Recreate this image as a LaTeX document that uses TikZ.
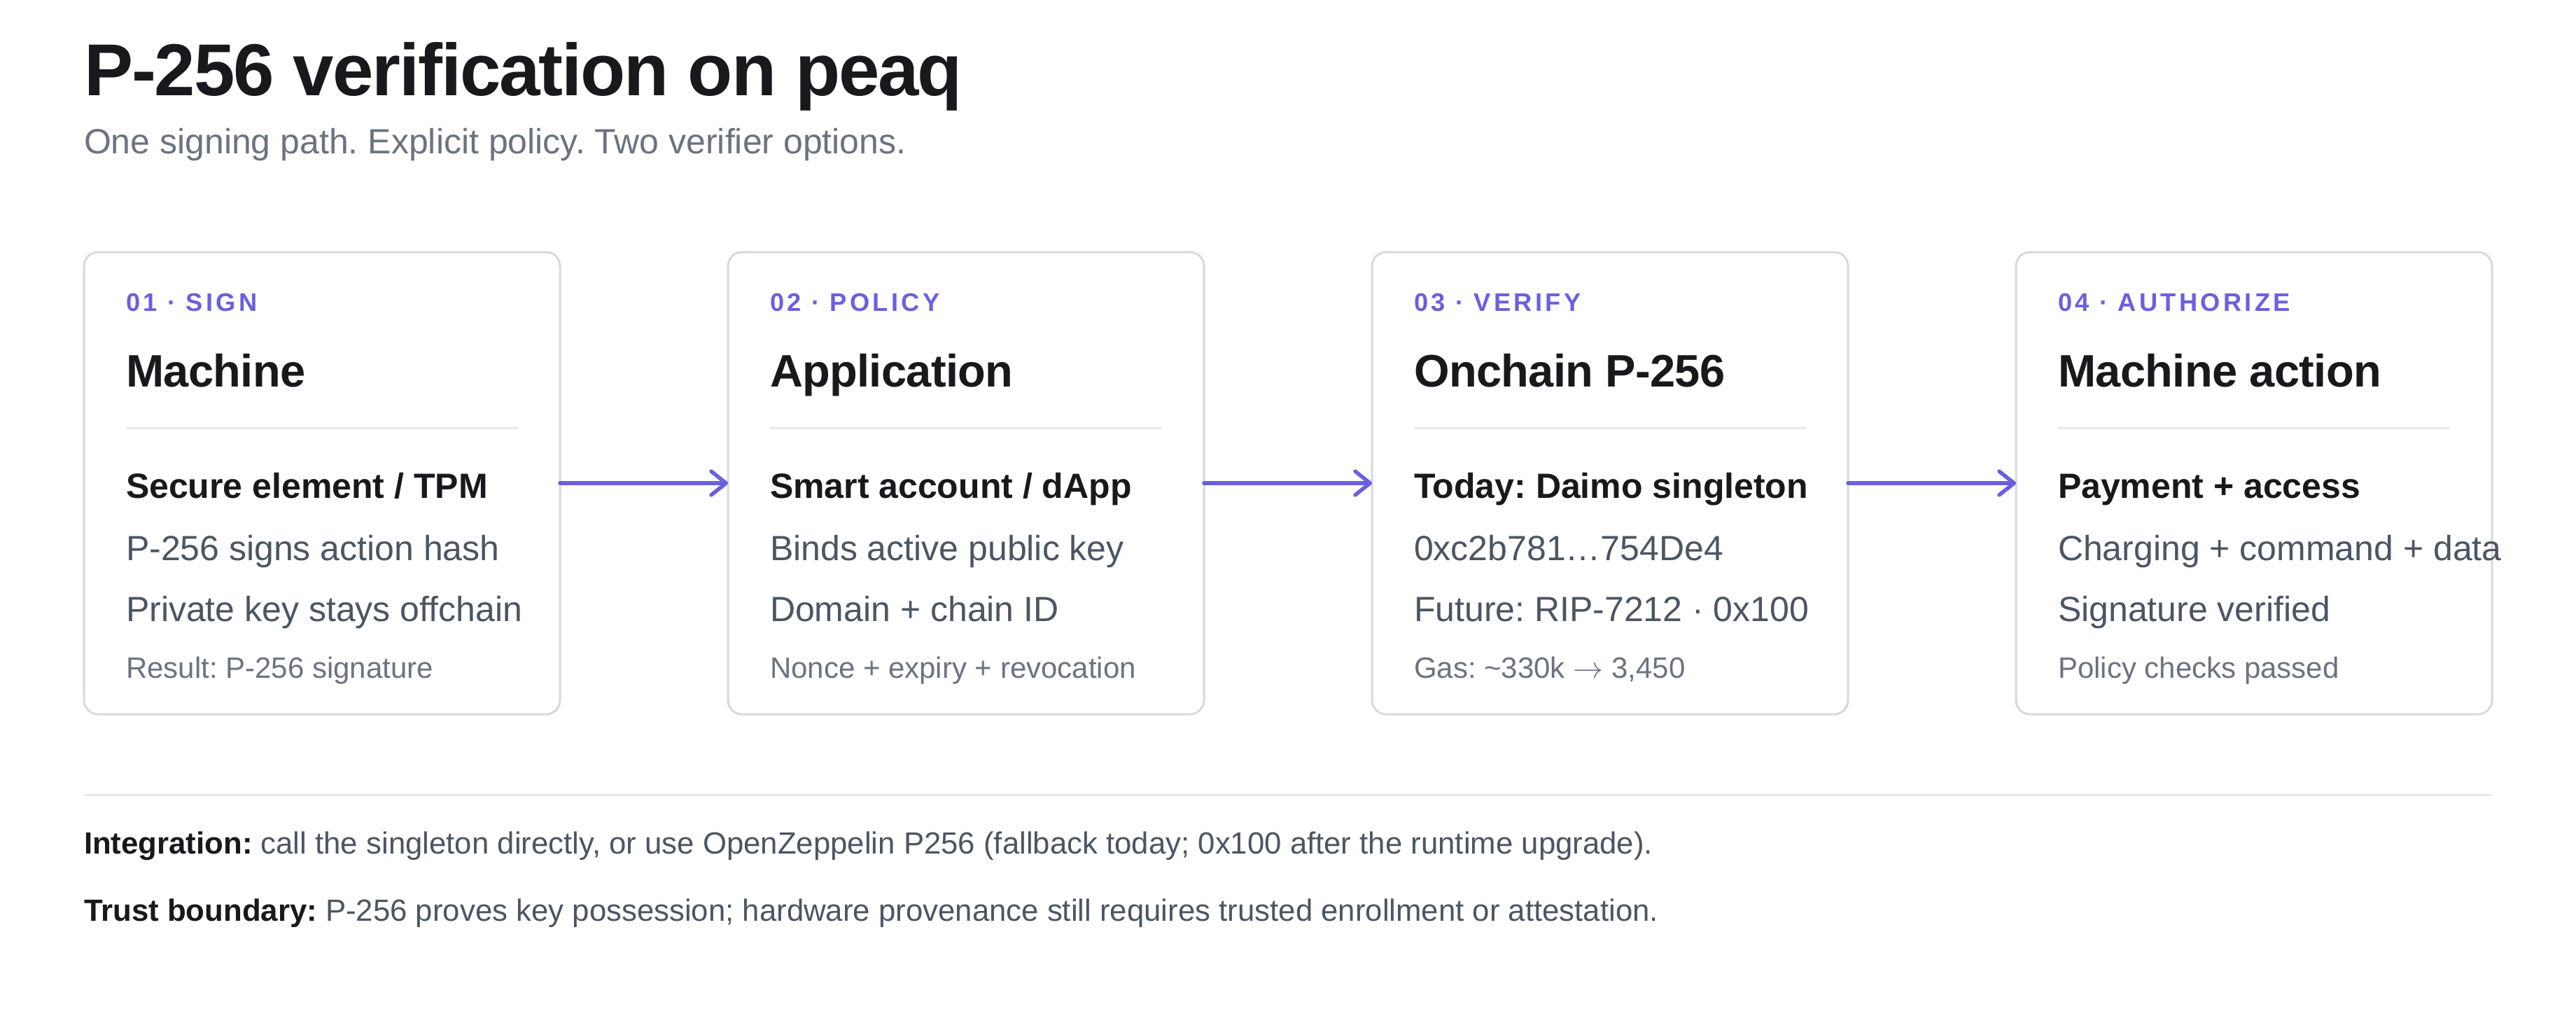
\documentclass[tikz,border=0pt]{standalone}
\usepackage{fontspec}
\setmainfont{Liberation Sans}
\usetikzlibrary{arrows.meta}
\frenchspacing
\definecolor{ink}{HTML}{18181D}
\definecolor{body}{HTML}{4B5563}
\definecolor{muted}{HTML}{6B7280}
\definecolor{accent}{HTML}{6B5FE0}
\definecolor{cardline}{HTML}{D6D8DE}
\definecolor{rule}{HTML}{E5E7EB}
\newcommand\mkcard[8]{%
  \node[cardbox, anchor=north west] (#1) at (#2,-144) {};
  \node[txt, lblfont] (#1-lbl) at ([shift={(24,-33.7)}]#1.north west) {#3};
  \node[txt, headfont] (#1-head) at ([shift={(24,-77)}]#1.north west) {#4};
  \coordinate (#1-r1) at ([shift={(24,-100.6)}]#1.north west);
  \coordinate (#1-r2) at ([shift={(248,-100.6)}]#1.north west);
  \draw[divider] (#1-r1) -- (#1-r2);
  \node[txt, strongfont] (#1-a) at ([shift={(24,-140.4)}]#1.north west) {#5};
  \node[txt, bodyfont] (#1-b) at ([shift={(24,-176)}]#1.north west) {#6};
  \node[txt, bodyfont] (#1-c) at ([shift={(24,-211)}]#1.north west) {#7};
  \node[txt, smallfont] (#1-d) at ([shift={(24,-243.3)}]#1.north west) {#8};
}
\begin{document}
\begin{tikzpicture}[x=1pt,y=1pt,
  txt/.style={inner sep=0pt, outer sep=0pt, anchor=base west},
  cardbox/.style={draw=cardline, line width=1.2pt, rounded corners=8pt, fill=white,
    minimum width=272pt, minimum height=264pt, inner sep=0pt, outer sep=0pt},
  divider/.style={draw=rule, line width=1.5pt},
  sepline/.style={draw=rule, line width=1.2pt},
  lblfont/.style={font=\fontsize{14.5}{17}\selectfont\bfseries\addfontfeatures{LetterSpace=12}, text=accent},
  headfont/.style={font=\fontsize{26}{31}\selectfont\bfseries\addfontfeatures{LetterSpace=-1}, text=ink},
  strongfont/.style={font=\fontsize{20}{24}\selectfont\bfseries, text=ink},
  bodyfont/.style={font=\fontsize{20}{24}\selectfont, text=body},
  smallfont/.style={font=\fontsize{16.8}{20}\selectfont, text=muted},
  notefont/.style={font=\fontsize{17.5}{21}\selectfont, text=body},
  flow/.style={draw=accent, line width=2.2pt, line cap=round,
    -{Straight Barb[length=8.5pt, width=13.5pt, line join=round, line cap=round]}}
]
\useasboundingbox[fill=white] (0,0) rectangle (1472,-576);

\node[txt, font=\fontsize{42}{50}\selectfont\bfseries\addfontfeatures{LetterSpace=-2}, text=ink] (title) at (48,-54.7) {P-256 verification on peaq};
\node[txt, font=\fontsize{20}{24}\selectfont, text=muted] (subtitle) at (48,-87.8) {One signing path. Explicit policy. Two verifier options.};

\mkcard{c1}{48}{01 · SIGN}{Machine}{Secure element / TPM}{P-256 signs action hash}{Private key stays offchain}{Result: P-256 signature}
\mkcard{c2}{416}{02 · POLICY}{Application}{Smart account / dApp}{Binds active public key}{Domain + chain ID}{Nonce + expiry + revocation}
\mkcard{c3}{784}{03 · VERIFY}{Onchain P-256}{Today: Daimo singleton}{0xc2b781…754De4}{Future: RIP-7212 · 0x100}{Gas: \textasciitilde330k $\rightarrow$ 3,450}
\mkcard{c4}{1152}{04 · AUTHORIZE}{Machine action}{Payment + access}{Charging + command + data}{Signature verified}{Policy checks passed}

\draw[flow] (c1.east) -- (c2.west);
\draw[flow] (c2.east) -- (c3.west);
\draw[flow] (c3.east) -- (c4.west);

\coordinate (s1) at (48,-454.3);
\coordinate (s2) at (1424,-454.3);
\draw[sepline] (s1) -- (s2);

\node[txt, notefont] (integ) at (48,-487.7) {\textcolor{ink}{\bfseries Integration:} call the singleton directly, or use OpenZeppelin P256 (fallback today; 0x100 after the runtime upgrade).};
\node[txt, notefont] (trust) at (48,-526) {\textcolor{ink}{\bfseries Trust boundary:} P-256 proves key possession; hardware provenance still requires trusted enrollment or attestation.};
\end{tikzpicture}
\end{document}
